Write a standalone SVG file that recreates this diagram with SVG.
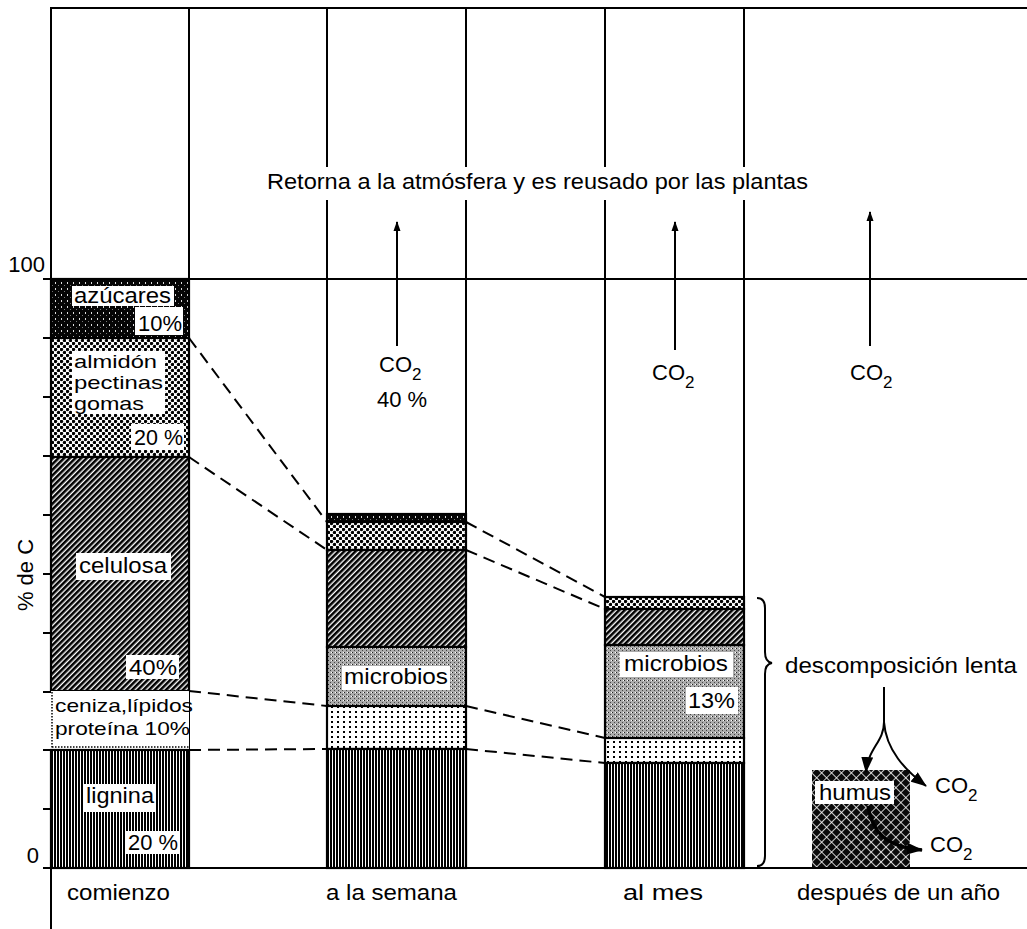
<svg xmlns="http://www.w3.org/2000/svg" width="1027" height="929" viewBox="0 0 1027 929">
<style>
 text{font-family:"Liberation Sans",Arial,Helvetica,sans-serif;fill:#000;font-size:22px}
 .ln{stroke:#000;stroke-width:2;fill:none}
 .seg{stroke:#000;stroke-width:2.2}
 .dash{stroke:#000;stroke-width:2;stroke-dasharray:12 7;fill:none}
 .bg{fill:#fff}
 .arr{stroke:#000;stroke-width:2;fill:none}
 .harr{stroke:#000;stroke-width:3.5;fill:none}
 .stack{font-size:19px}
</style>
<defs>
 <pattern id="pSugar" width="6" height="6" patternUnits="userSpaceOnUse">
  <rect width="6" height="6" fill="#050505"/>
  <rect x="1" y="0" width="1" height="2" fill="#ddd"/>
  <rect x="4" y="3" width="1" height="1" fill="#777"/>
 </pattern>
 <pattern id="pStarch" width="6" height="6" patternUnits="userSpaceOnUse">
  <rect width="6" height="6" fill="#fff"/>
  <circle cx="1.5" cy="1.5" r="1.7" fill="#000"/>
  <circle cx="4.5" cy="4.5" r="1.7" fill="#000"/>
 </pattern>
 <pattern id="pCell" width="4" height="4" patternUnits="userSpaceOnUse" patternTransform="rotate(45)">
  <rect width="4" height="4" fill="#fff"/>
  <rect width="2.6" height="4" fill="#000"/>
 </pattern>
 <pattern id="pAsh" width="6" height="5" patternUnits="userSpaceOnUse">
  <rect width="6" height="5" fill="#fff"/>
  <rect x="1" y="1" width="2" height="2" fill="#000"/>
 </pattern>
 <pattern id="pLig" width="3" height="10" patternUnits="userSpaceOnUse">
  <rect width="3" height="10" fill="#fff"/>
  <rect width="2" height="10" fill="#000"/>
 </pattern>
 <pattern id="pMic" width="4" height="4" patternUnits="userSpaceOnUse">
  <rect width="4" height="4" fill="#ababab"/>
  <rect x="0" y="0" width="1" height="1" fill="#222"/>
  <rect x="2" y="2" width="1" height="1" fill="#444"/>
  <rect x="3" y="0" width="1" height="1" fill="#fff"/>
 </pattern>
 <pattern id="pHum" width="7" height="7" patternUnits="userSpaceOnUse" patternTransform="rotate(45)">
  <rect width="7" height="7" fill="#0a0a0a"/>
  <path d="M0 0.5H7M0.5 0V7" stroke="#fff" stroke-width="0.8"/>
 </pattern>
 <marker id="ah" viewBox="0 0 10 8" refX="9" refY="4" markerWidth="10" markerHeight="8" orient="auto" markerUnits="userSpaceOnUse">
  <path d="M0 0.5L10 4L0 7.5z" fill="#000"/>
 </marker>
 <marker id="ahB" viewBox="0 0 16 12" refX="15" refY="6" markerWidth="16" markerHeight="12" orient="auto" markerUnits="userSpaceOnUse">
  <path d="M0 0L16 6L0 12z" fill="#000"/>
 </marker>
</defs>
<rect width="1027" height="929" fill="#fff"/>

<g id="frame">
 <path class="ln" d="M50 8H1027" stroke-width="2.5"/>
 <path class="ln" d="M51 8V279M51 868V929"/>
 <path class="ln" d="M189 8V868M327 8V868M466 8V868M605 8V868M744 8V868"/>
 <path class="ln" d="M43 279H1027"/>
 <path class="ln" d="M43 338H56M43 397H56M43 456H56M43 515H56M43 574H56M43 633H56M43 692H56M43 750H56M43 809H56M43 868H56"/>
</g>

<g id="title">
 <rect class="bg" x="262" y="167" width="553" height="33"/>
 <text x="267" y="189" textLength="541" lengthAdjust="spacingAndGlyphs">Retorna a la atmósfera y es reusado por las plantas</text>
</g>

<g id="axis-labels">
 <text x="45" y="272" text-anchor="end" font-size="21">100</text>
 <text x="39" y="863" text-anchor="end" font-size="21">0</text>
 <text transform="translate(33,575) rotate(-90)" text-anchor="middle" font-size="21">% de C</text>
</g>

<g id="bar-comienzo">
 <g id="b1-azucares">
  <rect class="seg" x="51" y="279" width="138" height="59" fill="url(#pSugar)"/>
  <rect class="bg" x="72" y="286" width="102" height="20"/>
  <text x="74" y="303" textLength="97" lengthAdjust="spacingAndGlyphs">azúcares</text>
  <rect class="bg" x="135" y="307" width="48" height="28"/>
  <text x="138" y="331" textLength="44" lengthAdjust="spacingAndGlyphs">10%</text>
 </g>
 <g id="b1-almidon">
  <rect class="seg" x="51" y="338" width="138" height="119" fill="url(#pStarch)"/>
  <rect class="bg" x="72" y="351" width="93" height="63"/>
  <text class="stack" x="74" y="368" textLength="83" lengthAdjust="spacingAndGlyphs">almidón</text>
  <text class="stack" x="74" y="389" textLength="89" lengthAdjust="spacingAndGlyphs">pectinas</text>
  <text class="stack" x="74" y="410" textLength="70" lengthAdjust="spacingAndGlyphs">gomas</text>
  <rect class="bg" x="131" y="424" width="53" height="26"/>
  <text x="134" y="445" textLength="49" lengthAdjust="spacingAndGlyphs">20 %</text>
 </g>
 <g id="b1-celulosa">
  <rect class="seg" x="51" y="457" width="138" height="234" fill="url(#pCell)"/>
  <rect class="bg" x="76" y="553" width="95" height="27"/>
  <text x="79" y="573" textLength="88" lengthAdjust="spacingAndGlyphs">celulosa</text>
  <rect class="bg" x="126" y="655" width="53" height="24"/>
  <text x="129" y="675" textLength="48" lengthAdjust="spacingAndGlyphs">40%</text>
 </g>
 <g id="b1-ceniza">
  <rect x="51" y="691" width="138" height="59" fill="#fff"/>
  <path d="M52 692V750M52 747H189" stroke="#000" stroke-width="1.5" stroke-dasharray="1.5 1.5" fill="none"/>
  <text class="stack" x="55" y="712" textLength="138" lengthAdjust="spacingAndGlyphs">ceniza,lípidos</text>
  <text class="stack" x="55" y="735" textLength="135" lengthAdjust="spacingAndGlyphs">proteína 10%</text>
 </g>
 <g id="b1-lignina">
  <rect class="seg" x="51" y="750" width="138" height="118" fill="url(#pLig)"/>
  <rect class="bg" x="83" y="784" width="73" height="28"/>
  <text x="86" y="803" textLength="68" lengthAdjust="spacingAndGlyphs">lignina</text>
  <rect class="bg" x="125" y="831" width="54" height="23"/>
  <text x="128" y="850" textLength="50" lengthAdjust="spacingAndGlyphs">20 %</text>
 </g>
</g>

<g id="bar-semana">
 <rect class="seg" x="327" y="514" width="139" height="8" fill="url(#pSugar)"/>
 <rect class="seg" x="327" y="522" width="139" height="28" fill="url(#pStarch)"/>
 <rect class="seg" x="327" y="550" width="139" height="97" fill="url(#pCell)"/>
 <g id="b2-microbios">
  <rect class="seg" x="327" y="647" width="139" height="59" fill="url(#pMic)"/>
  <rect class="bg" x="342" y="666" width="108" height="24"/>
  <text x="344" y="684" textLength="104" lengthAdjust="spacingAndGlyphs">microbios</text>
 </g>
 <rect class="seg" x="327" y="706" width="139" height="43" fill="url(#pAsh)"/>
 <rect class="seg" x="327" y="749" width="139" height="119" fill="url(#pLig)"/>
</g>

<g id="bar-mes">
 <rect class="seg" x="605" y="597" width="139" height="12" fill="url(#pStarch)"/>
 <rect class="seg" x="605" y="609" width="139" height="36" fill="url(#pCell)"/>
 <g id="b3-microbios">
  <rect class="seg" x="605" y="645" width="139" height="93" fill="url(#pMic)"/>
  <rect class="bg" x="620" y="652" width="113" height="25"/>
  <text x="624" y="671" textLength="104" lengthAdjust="spacingAndGlyphs">microbios</text>
  <rect class="bg" x="686" y="687" width="52" height="27"/>
  <text x="688" y="708" textLength="47" lengthAdjust="spacingAndGlyphs">13%</text>
 </g>
 <rect class="seg" x="605" y="738" width="139" height="25" fill="url(#pAsh)"/>
 <rect class="seg" x="605" y="763" width="139" height="105" fill="url(#pLig)"/>
</g>

<g id="humus">
 <rect x="812" y="770" width="98" height="98" fill="url(#pHum)"/>
 <rect class="bg" x="815" y="781" width="79" height="23"/>
 <text x="819" y="800" textLength="72" lengthAdjust="spacingAndGlyphs">humus</text>
</g>

<g id="connectors">
 <path class="dash" d="M189 338L327 522M189 457L327 550M189 691L327 706M189 750L327 749"/>
 <path class="dash" d="M466 522L605 597M466 550L605 609M466 706L605 738M466 749L605 763"/>
 <path class="arr" d="M397 346V222" marker-end="url(#ah)"/>
 <path class="arr" d="M675 350V222" marker-end="url(#ah)"/>
 <path class="arr" d="M870 346V212" marker-end="url(#ah)"/>
 <path class="ln" d="M757 598Q765 598 765 608V652Q765 662 772 663Q765 664 765 674V856Q765 866 757 866"/>
 <path class="arr" d="M884 687V722"/>
 <path class="arr" d="M884 722C884 742 868 748 866 772" marker-end="url(#ahB)"/>
 <path class="arr" d="M884 722C886 750 905 770 926 786" marker-end="url(#ahB)"/>
 <path class="harr" d="M868 806C872 832 886 847 922 850" marker-end="url(#ahB)"/>
</g>

<g id="co2-labels">
 <text x="379" y="372" font-size="22">CO<tspan font-size="17" dy="8">2</tspan></text>
 <text x="377" y="407" font-size="22">40 %</text>
 <text x="652" y="380" font-size="22">CO<tspan font-size="17" dy="8">2</tspan></text>
 <text x="850" y="380" font-size="22">CO<tspan font-size="17" dy="8">2</tspan></text>
 <text x="935" y="793" font-size="22">CO<tspan font-size="17" dy="8">2</tspan></text>
 <text x="930" y="852" font-size="22">CO<tspan font-size="17" dy="8">2</tspan></text>
</g>

<g id="slow-label">
 <text x="785" y="673" textLength="232" lengthAdjust="spacingAndGlyphs">descomposición lenta</text>
</g>

<g id="x-labels">
 <text x="67" y="900" textLength="103" lengthAdjust="spacingAndGlyphs">comienzo</text>
 <text x="326" y="900" textLength="131" lengthAdjust="spacingAndGlyphs">a la semana</text>
 <text x="623" y="900" textLength="80" lengthAdjust="spacingAndGlyphs">al mes</text>
 <text x="797" y="900" textLength="203" lengthAdjust="spacingAndGlyphs">después de un año</text>
</g>
<path class="ln" d="M51 868H1027" stroke-width="3"/>
</svg>
